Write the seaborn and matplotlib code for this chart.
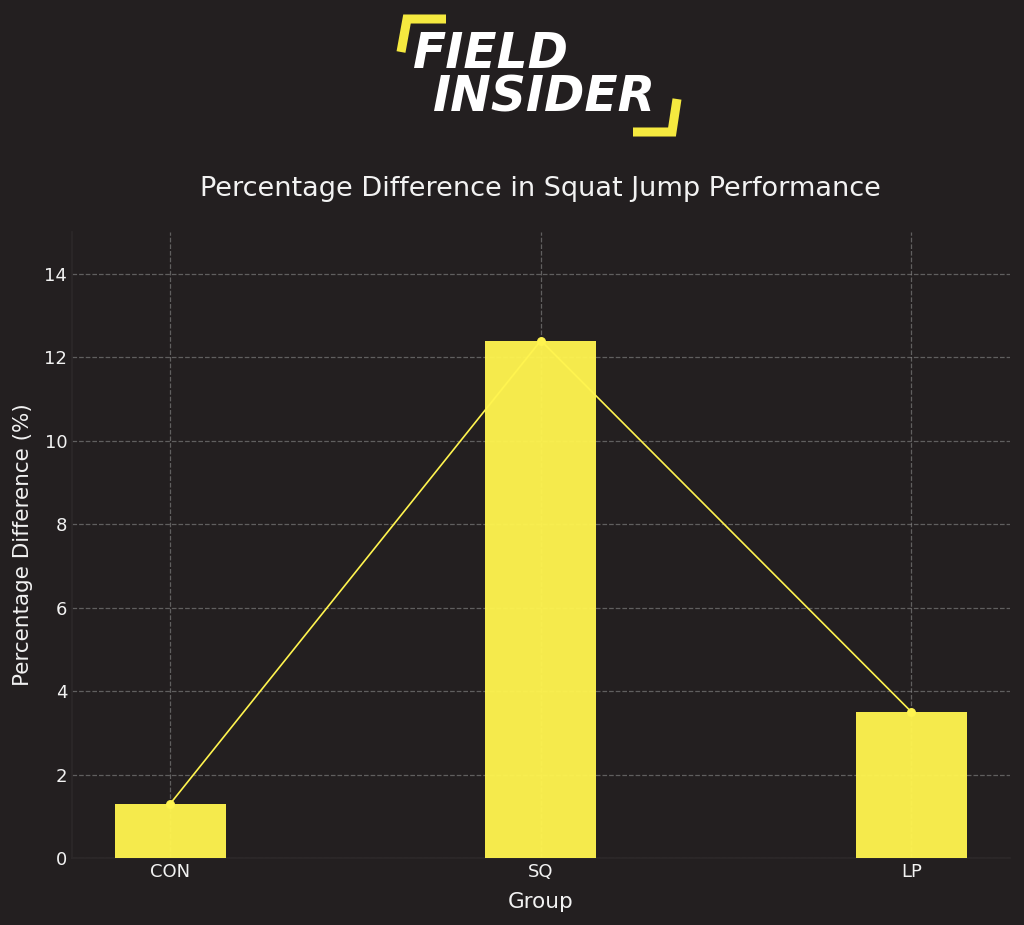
import matplotlib
matplotlib.use('Agg')
import matplotlib.pyplot as plt
from matplotlib.lines import Line2D
import seaborn as sns
import pandas as pd

# data
groups = ['CON', 'SQ', 'LP']
pct_diff = [1.3, 12.4, 3.5]
y_ticks = [0, 2, 4, 6, 8, 10, 12, 14]

bg = '#231f20'
yellow = '#fff44f'
txt = '#f2f2f2'

df = pd.DataFrame({'Group': groups, 'pct': pct_diff})

sns.set_style('dark')
plt.rcParams['font.family'] = ['DejaVu Sans']

fig = plt.figure(figsize=(10.24, 9.25), dpi=100, facecolor=bg)
ax = fig.add_axes([0.0703, 0.0724, 0.9157, 0.6768])
ax.set_facecolor(bg)

# line sits under the bars
sns.pointplot(data=df, x='Group', y='pct', color=yellow, errorbar=None,
              markersize=5.5, linewidth=1.2, ax=ax)
sns.barplot(data=df, x='Group', y='pct', color=yellow, alpha=0.96,
            width=0.3, saturation=1, linewidth=0, edgecolor='none', ax=ax)
for line in ax.lines:
    line.set_zorder(2)
for patch in ax.patches:
    patch.set_zorder(3)

#axis formatting
ax.set_xlim(-0.265, 2.265)
ax.set_ylim(0, 15)
ax.set_yticks(y_ticks)
ax.set_axisbelow(True)
ax.grid(True, linestyle='--', color='#8a8a8a', alpha=0.6, linewidth=0.9)
ax.tick_params(colors='#e0e0e0', labelcolor=txt, labelsize=13, length=4,
               width=1, direction='in')
for side in ['top', 'right']:
    ax.spines[side].set_visible(False)
for side in ['left', 'bottom']:
    ax.spines[side].set_color('#2c2829')
    ax.spines[side].set_linewidth(1.2)
ax.set_xlabel('Group', fontsize=15.5, color=txt, labelpad=8)
ax.set_ylabel('Percentage Difference (%)', fontsize=15.5, color=txt, labelpad=8)
ax.set_title('Percentage Difference in Squat Jump Performance', fontsize=19.5,
             color=txt, pad=26)

#logo
W, H = 1024, 925
def fx(x):
    return x / W
def fy(y):
    return 1 - y / H

fig.text(fx(413), fy(54), 'FIELD', fontsize=35, fontweight='heavy', style='italic',
         color='white', va='center', ha='left')
fig.text(fx(433), fy(97), 'INSIDER', fontsize=35, fontweight='heavy', style='italic',
         color='white', va='center', ha='left')
fig.add_artist(Line2D([fx(446), fx(407), fx(401)], [fy(19), fy(19), fy(52)],
                      color='#f5e93f', linewidth=6.5, solid_joinstyle='miter',
                      solid_capstyle='butt', transform=fig.transFigure))
fig.add_artist(Line2D([fx(677), fx(672), fx(633)], [fy(99), fy(132), fy(132)],
                      color='#f5e93f', linewidth=6.5, solid_joinstyle='miter',
                      solid_capstyle='butt', transform=fig.transFigure))

fig.savefig('out.png', dpi=100, facecolor=bg)
